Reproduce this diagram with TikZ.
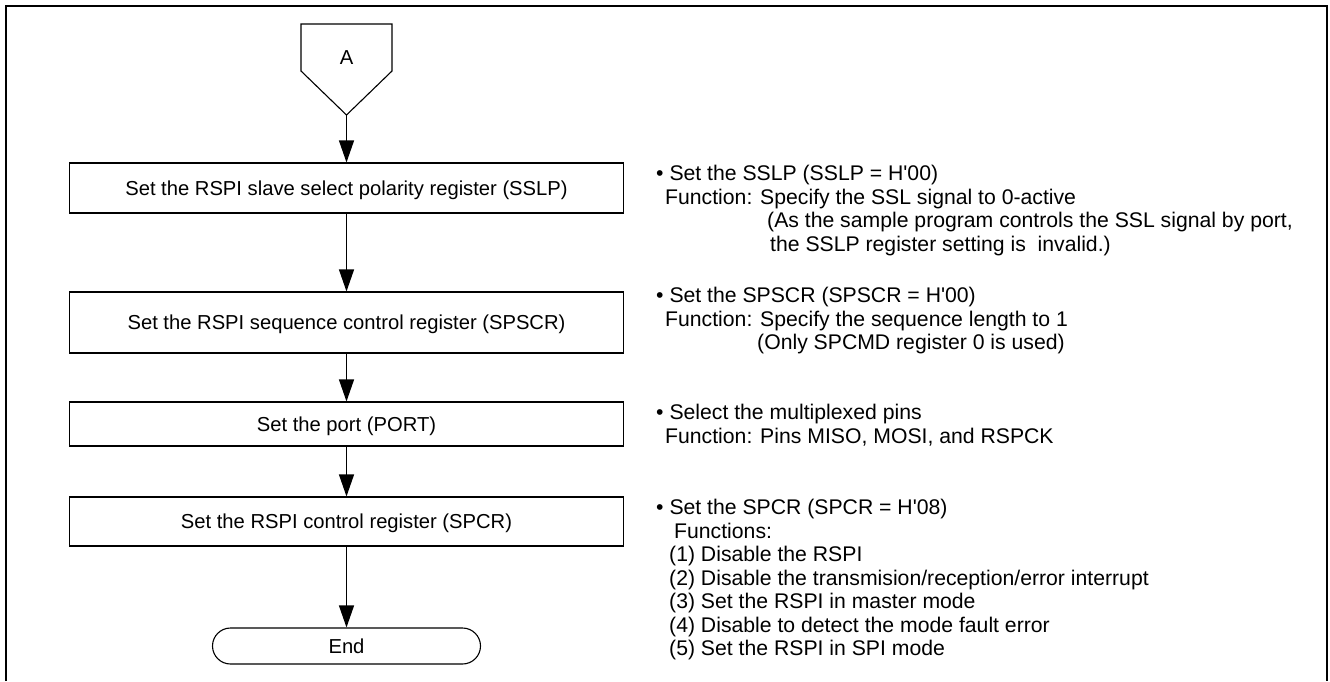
\documentclass[tikz,border=0pt]{standalone}
\usepackage{fontspec}
\setmainfont{Liberation Sans}
\usetikzlibrary{arrows.meta}
\begin{document}
\begin{tikzpicture}[x=1pt,y=-1pt,
  box/.style={draw,line width=1.1pt,rectangle,minimum width=554pt,inner sep=0pt,
    text height=14pt,text depth=0pt,font=\fontsize{20.2}{24}\selectfont},
  note/.style={anchor=base west,inner sep=0pt,font=\fontsize{21.2}{23.5}\selectfont},
  flow/.style={line width=1.1pt,-{Triangle[length=22pt,width=15pt]}}]
\useasboundingbox (0,0) rectangle (1330,681);
% outer frame
\draw[line width=2pt] (6,681) -- (6,6) -- (1327,6) -- (1327,681);

% off-page connector A
\draw[line width=1.1pt,line join=miter] (301,24) -- (392,24) -- (392,71) -- (346.5,115) -- (301,71) -- cycle;
\node[inner sep=0pt,text height=14pt,text depth=0pt,font=\fontsize{20.2}{24}\selectfont] (A) at (346.5,57) {A};
\coordinate (Atip) at (346.5,115);

% process steps
\node[box,minimum height=50pt] (b1) at (346.5,188) {Set the RSPI slave select polarity register (SSLP)};
\node[box,minimum height=61pt] (b2) at (346.5,322.5) {Set the RSPI sequence control register (SPSCR)};
\node[box,minimum height=44pt] (b3) at (346.5,424) {Set the port (PORT)};
\node[box,minimum height=49pt] (b4) at (346.5,521.5) {Set the RSPI control register (SPCR)};
\node[box,rounded corners=18pt,minimum width=268pt,minimum height=36pt] (e) at (346.5,646) {End};

\draw[flow] (Atip) -- (b1.north);
\draw[flow] (b1.south) -- (b2.north);
\draw[flow] (b2.south) -- (b3.north);
\draw[flow] (b3.south) -- (b4.north);
\draw[flow] (b4.south) -- (e.north);

% notes for SSLP
\node[note] (n1a) at (656,180.5) {\textbullet\ Set the SSLP (SSLP = H\textquotesingle 00)};
\node[note] (n1b) at (665,204) {Function: Specify the SSL signal to 0-active};
\node[note] (n1c) at (767,227.5) {(As the sample program controls the SSL signal by port,};
\node[note] (n1d) at (770,251) {the SSLP register setting is\ \ invalid.)};

% notes for SPSCR
\node[note] (n2a) at (656,302.5) {\textbullet\ Set the SPSCR (SPSCR = H\textquotesingle 00)};
\node[note] (n2b) at (665,326) {Function: Specify the sequence length to 1};
\node[note] (n2c) at (757,349.5) {(Only SPCMD register 0 is used)};

% notes for PORT
\node[note] (n3a) at (656,419.5) {\textbullet\ Select the multiplexed pins};
\node[note] (n3b) at (665,443) {Function: Pins MISO, MOSI, and RSPCK};

% notes for SPCR
\node[note] (n4a) at (656,514.5) {\textbullet\ Set the SPCR (SPCR = H\textquotesingle 08)};
\node[note] (n4b) at (674,538) {Functions:};
\node[note] (n4c) at (669,561.5) {(1) Disable the RSPI};
\node[note] (n4d) at (669,585) {(2) Disable the transmision/reception/error interrupt};
\node[note] (n4e) at (669,608.5) {(3) Set the RSPI in master mode};
\node[note] (n4f) at (669,632) {(4) Disable to detect the mode fault error};
\node[note] (n4g) at (669,655.5) {(5) Set the RSPI in SPI mode};
\end{tikzpicture}
\end{document}
